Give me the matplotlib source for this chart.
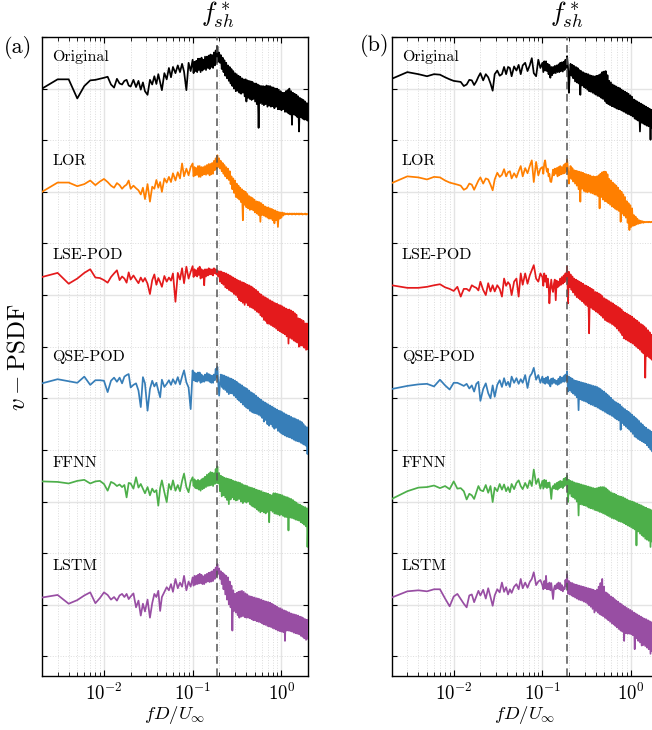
import numpy as np
import matplotlib
matplotlib.use('Agg')
import matplotlib.pyplot as plt
import matplotlib.transforms as mtransforms
from matplotlib.ticker import MultipleLocator, LogLocator, NullFormatter

# police type LaTeX (Computer Modern livree avec matplotlib)
plt.rcParams['font.family'] = 'serif'
plt.rcParams['font.serif'] = ['cmr10']
plt.rcParams['mathtext.fontset'] = 'cm'
plt.rcParams['axes.formatter.use_mathtext'] = True

# =============================================================
#  donnees (PSD en unites log arbitraires,
#  relative a la ligne de base de chaque courbe)
# =============================================================

freq = [0.0020, 0.0030, 0.0040, 0.0050, 0.0060, 0.0070, 0.0080, 0.0090, 0.0100, 0.0110,
        0.0120, 0.0130, 0.0140, 0.0150, 0.0160, 0.0170, 0.0180, 0.0190, 0.0200,
        0.0215, 0.0230, 0.0245, 0.0260, 0.0275, 0.0290, 0.0310, 0.0330, 0.0350, 0.0370,
        0.0390, 0.0410, 0.0430, 0.0450, 0.0480, 0.0510, 0.0540, 0.0570, 0.0600, 0.0640,
        0.0680, 0.0720, 0.0760, 0.0800, 0.0850, 0.0900, 0.0950,
        0.100, 0.1025, 0.105, 0.1075, 0.110, 0.1125, 0.115, 0.1175, 0.120, 0.123,
        0.126, 0.129, 0.132, 0.135, 0.138, 0.1415, 0.145, 0.1485, 0.152, 0.1555,
        0.159, 0.1625, 0.166, 0.170, 0.174, 0.178, 0.182, 0.186, 0.190, 0.1945,
        0.199, 0.2035, 0.208, 0.213, 0.218, 0.223, 0.228, 0.2335, 0.239, 0.2445,
        0.250, 0.256, 0.262, 0.268, 0.274, 0.2805, 0.287, 0.2935, 0.300, 0.307,
        0.314, 0.3215, 0.329, 0.3365, 0.344, 0.352, 0.360, 0.3685, 0.377, 0.386,
        0.395, 0.404, 0.413, 0.4225, 0.432, 0.442, 0.452, 0.4625, 0.473, 0.484,
        0.495, 0.5065, 0.518, 0.530, 0.542, 0.5545, 0.567, 0.5805, 0.594, 0.608,
        0.622, 0.6365, 0.651, 0.666, 0.681, 0.697, 0.713, 0.7295, 0.746, 0.7635,
        0.781, 0.799, 0.817, 0.836, 0.855, 0.875, 0.895, 0.916, 0.937, 0.959,
        0.981, 1.004, 1.027, 1.051, 1.075, 1.100, 1.125, 1.151, 1.177, 1.2045,
        1.232, 1.261, 1.290, 1.320, 1.350, 1.3815, 1.413, 1.446, 1.479, 1.5135,
        1.548, 1.584, 1.620, 1.658, 1.696, 1.7355, 1.775, 1.8165, 1.858, 1.9015,
        1.945, 1.9725, 2.000]

f_sh = 0.19

noms = ['Original', 'LOR', 'LSE-POD', 'QSE-POD', 'FFNN', 'LSTM']
couleurs = ['#000000', '#ff7f00', '#e41a1c', '#377eb8', '#4daf4a', '#984ea3']

# ---------------- panneau (a) ----------------
orig_a = [0, 1.8, 1.8, -1.9, 0.5, 1.6, 1.7, 1.9, 2.1, 2.3, 0.8, 0.2, 1.9, 1.0, 0.8, 1.5, 1.7, 0.6, 0.4,
          1.7, 0.3, 1.5, -0.2, 1.2, -0.5, -1.2, 1.7, 0.8, 2.4, 0.9, 2.8, 1.2, -0.3, 3.0, 1.8, 4.0,
          2.2, 4.2, 3.0, 4.5, 3.2, 4.8, 3.3, -0.3, 5.0, 3.4,
          5.6, 3.0, 5.2, 3.4, 5.4, 3.2, 5.8, 3.6, 5.8, 3.2,
          6.0, 3.5, 5.6, 3.8, 6.2, 3.6, 6.2, 4.0, 6.4, 3.8,
          6.6, 4.2, 6.5, 4.0, 7.0, 4.5, 7.4, 5.0, 8.2, 5.2,
          7.0, 5.0, 6.5, 3.8, 6.0, 3.2, 5.5, 2.5, 5.0, 2.0,
          4.5, 1.5, 4.2, 1.0, 3.8, 0.5, 3.4, 0.0, 3.0, -0.5,
          2.8, -0.4, 2.5, -0.8, 2.3, -1.0, 2.0, -0.8, 1.8, -1.5,
          1.8, -2.5, 1.6, -1.8, 1.5, -2.0, 1.4, -2.2, 1.3, -2.0,
          1.0, -2.5, 1.0, -3.0, 0.8, -7.6, 0.6, -2.8, 0.5, -3.0,
          0.5, -3.2, 0.4, -3.0, 0.6, -3.5, 0.5, -3.3, 0.5, -3.5,
          0.3, -3.4, 0.2, -3.8, 0.0, -3.5, 0.0, -4.0, -0.2, -4.0,
          -0.5, -4.2, -0.8, -4.0, -0.8, -4.5, -0.5, -4.5, -0.3, -4.8,
          0.0, -5.0, -0.5, -7.0, -0.8, -5.0, -1.0, -5.2, -1.2, -5.5,
          -1.5, -8.3, -1.8, -5.5, -2.0, -5.8, -2.2, -6.0, -2.5, -6.0,
          -2.8, -6.2, -3.0]

lor_a = [0, 1.8, 1.8, 1.1, 1.5, 2.2, 1.3, 2.0, 2.5, 1.9, 1.2, 0.8, 1.7, 1.3, 0.6, 1.1, 1.4, 2.2, 0.6,
         1.2, 0.7, 0.3, -0.5, 0.8, -1.4, 1.5, -1.9, 1.0, 0.6, 2.3, 0.8, 1.9, 0.0, 2.6, 1.8, 2.9,
         1.9, 3.6, 2.2, 3.8, 2.6, 5.5, 3.0, 4.5, 3.2, 4.8,
         5.5, 3.0, 4.8, 3.2, 4.6, 3.3, 5.0, 2.9, 5.0, 2.9,
         4.8, 3.2, 4.8, 3.4, 5.0, 3.3, 5.2, 3.5, 5.4, 3.2,
         5.4, 3.4, 5.6, 3.5, 6.0, 4.2, 6.5, 4.5, 7.1, 4.8,
         6.5, 4.5, 6.0, 4.0, 5.6, 3.5, 5.2, 3.0, 4.8, 2.6,
         4.5, 2.3, 4.0, 1.5, 3.0, 0.5, 2.6, -0.2, 2.2, -1.0,
         1.6, -1.2, 1.2, -1.5, 0.8, -2.0, 0.5, -5.5, 0.2, -2.5,
         0.0, -3.0, -0.4, -3.2, -0.8, -3.5, -1.0, -3.4, -1.2, -3.6,
         -1.5, -4.0, -1.8, -4.2, -1.9, -4.5, -2.0, -5.8, -2.2, -4.5,
         -2.5, -4.6, -2.8, -4.8, -3.0, -5.0, -3.0, -5.2, -3.2, -5.2,
         -3.3, -5.5, -3.5, -6.1, -3.6, -5.5, -3.8, -6.8, -3.9, -5.2,
         -4.0, -5.0, -4.0, -4.6, -4.1, -4.4, -4.2, -4.3, -4.2, -4.4,
         -4.2, -4.3, -4.2, -4.4, -4.2, -4.3, -4.2, -4.4, -4.2, -4.3,
         -4.2, -4.4, -4.2, -4.3, -4.2, -4.4, -4.3, -4.3, -4.2, -4.4,
         -4.3, -4.3, -4.3]

lse_a = [3.5, 4.3, 2.2, 3.2, 4.3, 5.0, 3.4, 3.3, 2.9, 2.4, 3.5, 4.2, 4.8, 2.9, 3.6, 3.2, 2.4, 4.4, 3.0,
         3.8, 3.0, 2.3, 3.4, 2.6, 3.3, 2.2, 0.2, 2.9, 4.0, 2.0, 3.3, 2.5, 1.6, 3.7, 2.6, 3.4,
         2.8, 4.2, -1.3, 4.3, 3.0, 5.2, 2.3, 5.5, 3.2, 4.5,
         5.6, 3.5, 5.0, 3.8, 4.8, 3.6, 5.2, 3.9, 5.5, 3.2,
         5.0, 3.4, 4.8, 1.9, 5.0, 3.6, 5.0, 3.8, 5.2, 4.0,
         5.0, 4.0, 5.0, 3.8, 5.2, 4.2, 5.0, 4.0, 4.8, 3.6,
         4.6, 2.6, 4.6, 2.3, 4.4, 2.0, 4.3, 1.5, 4.2, 1.3,
         4.0, 1.0, 3.8, 0.8, 3.6, 0.6, 3.4, 0.2, 3.2, 0.0,
         3.0, -0.4, 2.8, -1.0, 2.7, -1.2, 2.5, -1.5, 2.4, -1.9,
         2.2, -1.5, 2.0, -2.0, 1.9, -2.3, 1.7, -2.4, 1.5, -2.6,
         1.2, -2.9, 1.0, -3.2, 0.7, -3.4, 0.3, -3.9, 0.1, -4.2,
         -0.2, -4.8, -0.4, -5.0, -0.6, -5.5, -0.8, -5.6, -1.0, -5.8,
         -1.2, -6.0, -1.4, -6.2, -1.6, -6.5, -1.7, -6.8, -1.9, -7.0,
         -2.0, -7.2, -2.2, -7.4, -2.4, -7.6, -2.6, -8.0, -2.8, -9.4,
         -2.8, -8.3, -3.0, -8.5, -3.2, -8.8, -3.5, -9.0, -3.8, -9.2,
         -4.5, -10.0, -4.6, -9.8, -4.8, -9.8, -5.0, -10.2, -5.5, -10.6,
         -5.5, -10.5, -5.6]

qse_a = [2.9, 3.7, 3.3, 3.0, 4.2, 2.6, 3.5, 3.5, 3.4, 1.2, 3.4, 4.0, 3.2, 4.0, 2.9, 4.2, 4.5, 4.7, 2.1,
         2.6, 2.9, 1.5, -1.7, 4.1, 2.9, -2.4, 1.8, 3.4, 2.3, 3.0, 1.5, 0.2, 3.6, 2.2, 2.8, 3.5,
         2.6, 3.7, 2.8, 4.1, 2.7, 4.2, 5.4, 3.1, 2.1, -2.1,
         5.4, 3.5, 5.0, 3.3, 4.8, 3.2, 5.0, 3.4, 5.0, 3.0,
         4.6, 3.2, 4.3, 3.2, 4.6, 3.4, 4.9, 3.4, 4.7, 3.2,
         4.5, 3.0, 4.4, 3.0, 4.6, 3.5, 5.7, 4.0, 6.1, 3.0,
         0.5, 3.0, 4.6, 2.2, 4.5, 1.8, 4.4, 1.6, 4.2, 1.2,
         4.1, 0.8, 3.9, 1.0, 3.8, 0.9, 3.6, 0.5, 3.4, 0.2,
         3.2, -0.2, 2.9, -0.5, 2.7, -0.8, 2.5, -1.2, 2.2, -1.5,
         2.0, -1.8, 1.8, -2.0, 1.5, -2.4, 1.2, -2.6, 1.0, -2.8,
         0.8, -2.9, 0.5, -3.0, 0.2, -3.2, -0.1, -3.4, -0.3, -3.8,
         -0.6, -4.5, -0.8, -4.2, -1.0, -5.0, -1.2, -5.3, -1.4, -5.0,
         -1.6, -5.5, -1.8, -5.9, -2.0, -5.7, -2.2, -6.3, -2.4, -6.5,
         -2.5, -6.8, -2.7, -7.0, -2.9, -7.2, -3.1, -7.4, -3.3, -7.5,
         -3.4, -7.6, -3.6, -7.8, -3.8, -8.0, -3.9, -8.2, -4.1, -8.3,
         -4.2, -8.4, -4.4, -8.6, -4.6, -8.8, -5.0, -9.0, -5.4, -9.2,
         -5.6, -10.8, -6.0]

ffnn_a = [3.9, 3.8, 3.5, 4.0, 4.2, 3.5, 3.9, 4.0, 3.4, 2.1, 3.8, 3.5, 3.0, 3.3, 2.8, 3.2, 0.8, 3.6, 3.5,
          2.5, 4.7, 2.7, 3.4, 2.5, 1.6, 2.8, 1.2, 2.5, 1.8, 2.2, -0.8, 2.6, 4.1, 1.8, -0.1, 3.4,
          2.3, 4.1, 2.1, 3.2, 2.0, 4.0, 5.4, 2.8, 1.8, 3.9,
          4.7, 3.0, 4.3, 2.6, 4.0, 2.5, 4.2, 2.3, 4.0, 2.1,
          4.3, 2.4, 4.5, 2.6, 4.8, 2.8, 5.2, 3.0, 5.4, 3.1,
          5.7, 3.2, 5.6, 3.0, 5.5, 3.4, 6.3, 3.6, 6.8, 3.5,
          5.5, 2.0, 5.0, 1.0, 4.8, 1.2, 4.6, 0.8, 4.5, 0.3,
          4.4, -0.5, 4.3, 0.4, 4.2, 0.8, 4.0, 0.4, 3.9, 0.2,
          3.8, 0.3, 3.7, 0.5, 3.6, 0.0, 3.4, -0.3, 3.2, 0.0,
          3.1, -0.2, 3.0, 0.0, 2.8, -0.5, 2.7, -0.8, 2.6, -1.0,
          2.5, -1.2, 2.3, -1.5, 2.2, -1.8, 2.1, -2.1, 2.0, -1.9,
          1.8, -2.1, 1.7, -2.3, 1.6, -2.0, 1.5, -4.0, 1.3, -1.7,
          1.2, -2.0, 1.6, -2.3, 1.6, -2.4, 1.5, -2.5, 1.4, -2.7,
          1.3, -2.5, 1.2, -2.8, 1.0, -3.0, 0.9, -3.0, 0.8, -5.6,
          0.6, -3.1, 0.5, -3.2, 0.3, -3.3, 0.0, -3.5, -0.2, -3.6,
          -0.5, -3.7, -0.6, -4.0, -0.8, -4.2, -1.0, -4.5, -1.1, -4.8,
          -1.3, -8.8, -5.0]

lstm_a = [1.4, 1.9, 0.2, 0.9, 1.8, 2.4, 0.3, 1.3, 2.4, 1.9, 1.0, 1.5, 0.8, 1.8, 2.1, 1.5, 2.1, 1.1, 1.6,
          2.2, -0.5, 0.8, -2.1, 0.2, -1.3, 1.0, -2.5, 0.3, 2.1, 1.5, 2.7, -1.2, 1.5, 2.5, 3.4, 2.8,
          4.0, 2.5, 5.0, 3.2, 4.3, 3.5, 5.6, 2.8, 4.5, 3.5,
          5.3, 3.7, 5.6, 3.9, 5.6, 4.0, 5.8, 4.1, 6.0, 4.2,
          5.8, 4.0, 5.5, 4.0, 5.8, 4.3, 6.0, 4.5, 6.2, 4.4,
          6.3, 4.5, 6.5, 4.6, 6.8, 5.0, 7.2, 5.5, 7.9, 6.0,
          7.0, 5.0, 6.5, 4.0, 6.2, 3.0, 5.9, 2.0, 5.6, 1.0,
          5.3, 0.1, 4.5, -0.5, 3.7, -5.0, 2.8, -1.2, 2.1, -1.5,
          2.3, -2.0, 2.5, -2.5, 2.6, -2.3, 2.7, -2.2, 2.5, -2.4,
          2.2, -2.5, 2.0, -2.5, 1.7, -2.6, 1.6, -2.8, 1.5, -3.0,
          1.4, -3.0, 1.3, -3.2, 1.2, -3.3, 1.1, -3.4, 1.0, -3.6,
          0.8, -3.8, 0.7, -3.9, 0.6, -4.1, 0.5, -4.2, 0.4, -4.3,
          0.2, -4.5, 0.0, -4.6, -0.2, -4.8, -0.4, -5.0, -0.6, -5.1,
          -0.7, -5.2, -0.9, -5.3, -1.1, -7.0, -1.2, -5.0, -1.4, -5.0,
          -1.5, -5.1, -1.7, -5.2, -1.8, -5.4, -1.9, -5.5, -2.0, -5.6,
          -2.1, -5.7, -2.3, -6.0, -2.4, -6.2, -2.6, -6.5, -2.8, -6.8,
          -2.9, -6.6, -3.0]

# ---------------- panneau (b) ----------------
orig_b = [1.9, 3.2, 2.8, 2.4, 2.8, 2.7, 2.2, 1.8, 1.5, 1.4, 1.3, 0.5, 0.8, 1.7, 1.6, 0.7, 1.4, 2.3, 3.0,
          1.6, 2.8, 2.2, 1.0, -0.4, 2.8, 3.5, 2.5, 2.8, 4.2, 2.8, 4.2, 4.0, 2.4, 4.3, 3.5, 4.6,
          2.8, 4.5, 5.0, 3.4, 4.5, 5.9, 3.0, 2.4, 5.6, 4.0,
          5.0, 3.2, 5.3, 3.5, 5.3, 3.4, 4.8, 2.8, 4.6, 2.1,
          4.2, 2.6, 4.2, 3.0, 4.4, 3.0, 4.5, 3.2, 4.7, 3.2,
          5.0, 3.4, 5.1, 3.3, 5.2, 3.6, 5.6, 4.0, 6.3, 4.2,
          -0.8, 3.0, 4.8, 2.5, 4.6, 2.0, 4.4, 1.4, 4.2, 1.2,
          4.0, 1.0, 3.6, -1.2, 3.4, 0.6, 3.2, 0.3, 3.0, 0.1,
          2.9, -0.2, 2.8, -0.5, 2.6, -0.6, 2.5, -0.8, 2.4, -1.0,
          2.4, -1.2, 2.5, -1.4, 2.6, -1.5, 2.8, -1.8, 3.2, -2.0,
          3.3, -2.4, 3.4, -2.8, 2.6, -3.0, 1.5, -3.2, 1.2, -3.4,
          0.8, -3.5, 0.6, -3.7, 0.4, -3.9, 0.2, -4.0, 0.1, -4.1,
          -0.2, -4.3, -0.4, -4.5, -0.6, -4.7, -0.8, -4.9, -1.0, -5.0,
          -1.3, -5.2, -1.6, -5.4, -2.1, -5.8, -2.3, -6.0, -2.5, -6.2,
          -2.7, -8.3, -2.9, -6.6, -3.1, -6.8, -3.3, -7.0, -3.5, -7.2,
          -3.7, -7.3, -3.9, -9.9, -4.1, -7.6, -4.3, -7.8, -4.6, -8.0,
          -4.8, -8.2, -5.0]

lor_b = [1.7, 3.0, 2.8, 2.4, 2.9, 2.8, 2.2, 1.8, 1.6, 1.4, 1.2, 0.4, 0.7, 1.6, 1.4, 0.4, 1.3, 2.2, 2.8,
         1.6, 2.6, 2.4, 1.4, 0.3, 2.4, 3.7, 2.9, 3.3, 4.4, 3.0, 3.8, 4.0, 2.6, 3.6, 2.8, 4.0,
         5.0, 3.0, 4.6, 3.6, 5.0, 6.1, 1.9, 5.8, 3.2, 4.5,
         4.8, 3.5, 5.5, 6.1, 4.8, 3.9, 4.5, 3.0, 3.5, 2.0,
         1.9, 3.0, 4.3, 3.2, 4.5, 3.5, 4.6, 3.0, 4.8, 3.2,
         5.0, 3.4, 4.8, 3.5, 5.2, 3.6, 5.5, 4.0, 6.3, 4.5,
         1.6, 3.5, 5.0, 2.5, 4.6, 2.0, 4.2, 1.6, 4.1, 1.2,
         4.0, 0.5, 3.9, -1.9, 3.8, 0.6, 3.7, 0.2, 3.5, 0.0,
         3.4, -0.1, 3.3, 0.0, 3.2, -0.2, 3.0, -0.3, 3.0, -0.5,
         2.9, -0.6, 3.0, -0.8, 3.2, -3.2, 3.5, -1.0, 3.8, -1.5,
         3.9, -1.8, 3.9, -1.9, 3.4, -2.2, 2.5, -2.5, 2.2, -2.8,
         1.8, -3.0, 1.5, -3.3, 1.2, -3.5, 0.8, -3.7, 0.3, -5.8,
         0.0, -4.2, -0.5, -4.6, -1.0, -5.0, -1.8, -6.0, -2.2, -7.4,
         -2.6, -6.8, -3.2, -6.6, -4.5, -6.5, -4.8, -6.3, -5.2, -6.2,
         -5.5, -6.1, -5.6, -6.0, -5.7, -6.0, -5.8, -5.9, -5.8, -5.9,
         -5.8, -5.9, -5.8, -5.9, -5.8, -5.9, -5.8, -5.9, -5.8, -5.9,
         -5.8, -5.9, -5.8]

lse_b = [1.9, 1.4, 1.4, 1.6, 1.9, 2.1, 1.5, 1.2, 0.8, 1.6, -0.3, 1.2, 1.2, 0.8, 1.9, 1.6, 1.4, 0.9, 2.6,
         1.0, 0.0, 2.3, 0.7, 1.9, 0.7, 1.9, 1.2, -0.3, 3.2, 1.8, 2.5, 2.0, 0.0, 2.6, 3.2, -0.3,
         4.2, 2.0, 4.2, 2.2, 3.8, 4.8, 5.8, 3.2, 2.6, 4.2,
         3.5, 1.8, 4.2, 2.6, 3.8, 1.5, 3.2, 2.0, -1.6, 1.3,
         3.0, 1.3, 0.6, 2.2, 3.0, -1.0, 2.8, 1.5, 2.6, 1.8,
         3.2, 2.0, 3.5, 2.2, 3.8, 2.5, 4.2, 3.0, 5.5, -1.6,
         4.5, 1.5, 4.0, 1.0, 3.6, 0.5, 3.2, 0.0, 3.0, -0.4,
         2.8, -0.6, 2.6, -0.9, 2.4, -1.2, 2.2, -1.5, 1.9, -1.9,
         1.8, -2.1, 1.6, -7.4, 1.4, -2.4, 1.2, -2.7, 1.0, -2.9,
         0.6, -3.2, 0.5, -3.4, 0.3, -3.7, 0.1, -4.0, -0.2, -4.4,
         -0.6, -4.8, -0.8, -5.0, -1.0, -5.2, -1.2, -5.4, -1.4, -5.6,
         -1.6, -5.8, -1.9, -6.1, -2.1, -6.5, -2.3, -6.9, -2.5, -7.3,
         -2.8, -7.8, -3.2, -8.4, -3.4, -8.6, -3.6, -8.8, -3.8, -9.0,
         -4.0, -9.2, -4.2, -9.4, -4.5, -9.7, -4.8, -10.0, -5.0, -10.3,
         -5.3, -10.6, -5.6, -11.0, -5.8, -11.3, -6.1, -16.0, -6.4, -11.8,
         -6.8, -12.0, -7.2, -12.3, -7.7, -12.6, -7.9, -12.8, -8.1, -12.9,
         -8.3, -13.0, -8.5]

qse_b = [1.8, 2.4, 2.7, 2.8, 2.3, 3.6, 2.5, 1.7, 3.0, 3.0, 2.7, 2.4, 2.8, 1.9, 2.5, 1.3, 2.8, 3.2, -0.5,
         1.8, 2.9, 1.0, 0.0, 2.5, 0.3, 2.6, 3.5, 2.2, 3.9, 2.5, 3.2, 2.2, 4.2, 3.0, 3.9, 2.8,
         3.7, 3.0, 4.5, 2.0, 4.2, 4.8, 5.9, 3.6, 4.5, 3.0,
         4.2, 3.0, 3.8, 2.8, 4.0, 3.0, 4.2, 2.8, 3.5, 2.3,
         3.8, 2.8, 3.9, 3.0, 3.6, 2.8, 3.4, 2.6, 3.8, 2.8,
         4.2, 3.0, 4.0, 3.2, 4.3, 3.2, 4.6, 3.5, 5.2, 1.3,
         4.2, 1.5, 4.0, 1.2, 3.8, 0.9, 3.5, 0.6, 3.4, 0.2,
         3.3, -2.3, 3.2, -0.2, 3.1, -0.4, 3.0, -0.5, 2.9, -0.6,
         2.8, -0.8, 2.7, -1.0, 2.6, -1.2, 2.5, -1.3, 2.4, -1.5,
         2.3, -1.6, 2.2, -1.8, 2.0, -2.0, 1.8, -2.2, 1.5, -2.4,
         1.3, -2.6, 1.0, -2.8, 0.7, -3.0, 0.4, -3.2, 0.1, -3.4,
         -0.3, -3.6, -0.6, -3.9, -0.8, -4.1, -1.0, -4.3, -1.2, -6.1,
         -1.6, -4.8, -1.9, -5.2, -2.1, -5.5, -2.4, -5.8, -2.6, -6.1,
         -2.9, -6.5, -3.2, -6.9, -3.5, -7.4, -3.8, -7.6, -4.1, -7.9,
         -4.4, -8.1, -4.8, -8.3, -5.1, -8.5, -5.5, -8.7, -5.7, -9.1,
         -6.0, -9.5, -6.2, -9.9, -6.5, -10.3, -6.7, -10.4, -6.8, -10.5,
         -6.9, -10.5, -7.0]

ffnn_b = [0.5, 2.0, 2.7, 2.8, 3.1, 2.6, 3.0, 2.4, 3.9, 2.5, 2.6, 2.0, 0.4, 1.5, 1.2, 0.5, 1.8, 3.0, 2.2,
          2.0, 3.2, 1.7, 3.0, -0.1, 2.7, 2.0, 3.4, 2.3, 3.3, 2.0, 2.8, 1.8, 3.4, 2.4, 3.6, 4.1,
          3.0, 2.4, 3.6, 2.6, 4.1, 3.0, 6.2, 3.4, 4.4, 2.5,
          4.0, 2.5, 4.2, 2.8, 4.1, 2.6, 3.6, 2.8, 3.7, 2.4,
          0.5, 2.6, 3.0, 2.5, 3.4, 2.4, 3.6, 2.3, 3.8, 2.6,
          4.0, 2.8, 3.9, 2.6, 4.4, 3.0, 4.6, 3.4, 5.0, -0.1,
          4.2, 1.5, 4.0, 1.0, 3.9, 0.8, 3.7, 0.5, 3.6, 0.0,
          3.5, -2.7, 3.4, -0.5, 3.3, -0.6, 3.2, -0.7, 3.1, -0.8,
          3.0, -1.0, 2.9, -1.2, 2.8, -1.3, 2.7, -1.4, 2.6, -1.6,
          2.5, -1.7, 2.6, -1.8, 2.7, -2.0, 2.8, -2.1, 2.8, -2.3,
          2.8, -2.4, 2.6, -2.6, 2.3, -2.8, 2.0, -3.0, 1.8, -3.2,
          1.6, -3.3, 1.5, -3.4, 1.3, -3.6, 1.1, -3.8, 1.0, -3.9,
          0.9, -4.0, 0.8, -4.2, 0.6, -4.4, 0.4, -4.6, 0.2, -4.8,
          0.1, -5.0, 0.0, -5.2, -0.1, -5.4, -0.3, -8.5, -0.4, -5.8,
          -0.6, -6.2, -0.7, -6.5, -0.9, -6.8, -1.1, -7.2, -1.2, -7.4,
          -1.4, -7.6, -1.5, -8.8, -1.7, -7.8, -1.8, -8.0, -2.0, -8.2,
          -2.1, -8.5, -2.2]

lstm_b = [1.4, 2.6, 2.8, 2.6, 3.0, 3.0, 1.2, -0.3, 1.6, 2.1, 1.1, 0.2, -0.5, 1.8, 2.0, 0.5, 1.6, 2.7, 1.8,
          2.9, 1.2, 3.2, 1.5, -0.2, 1.8, 3.0, 2.4, 4.3, 2.5, 3.4, 2.0, 3.0, 2.3, 3.5, 4.0, 3.0,
          5.0, 3.2, 4.3, 3.3, 4.4, 5.0, 6.3, 3.8, 4.5, 4.8,
          3.8, 3.0, 4.6, 3.2, 5.6, 3.0, 4.0, 3.0, 4.3, 2.8,
          4.2, 2.6, 1.1, 3.0, 3.7, 3.0, 4.0, 3.2, 4.3, 3.0,
          4.2, 2.8, 3.8, 2.6, 3.4, 3.0, 4.8, 3.5, 5.9, 2.1,
          4.6, 2.0, 4.3, 1.8, 4.2, 1.6, 4.0, 1.4, 3.9, 1.2,
          3.8, 1.0, 3.7, 0.9, 3.6, 0.8, 3.5, 0.6, 3.4, 0.5,
          3.3, 0.2, 3.2, -0.1, 3.1, -0.4, 3.0, -0.8, 2.9, -1.5,
          2.7, -1.2, 2.9, -1.5, 3.5, -1.8, 4.2, -2.0, 5.0, -2.2,
          3.5, -2.5, 2.4, -2.7, 2.2, -3.0, 1.9, -3.3, 1.6, -3.6,
          1.4, -3.8, 1.1, -4.1, 0.8, -4.4, 0.6, -4.7, 0.3, -5.0,
          0.1, -5.2, -0.2, -7.0, -0.4, -5.5, -0.6, -5.6, -0.8, -5.6,
          -1.0, -5.7, -1.2, -5.9, -1.5, -8.6, -1.7, -6.5, -1.9, -7.0,
          -2.1, -7.3, -2.3, -7.9, -2.5, -7.8, -2.7, -8.0, -2.8, -8.3,
          -3.0, -8.6, -3.2, -9.5, -3.4, -9.0, -3.5, -9.2, -3.6, -9.3,
          -3.7, -9.4, -3.8]

# hauteur des etiquettes au-dessus de la ligne de base de chaque courbe
label_dy = [6.1, 6.0, 7.8, 8.0, 7.4, 7.4]
decalage = 20      # ecart vertical entre deux courbes


# =============================================================
#  trace
# =============================================================

fig = plt.figure(figsize=(6.52, 7.30), dpi=100)

# le panneau de droite deborde un peu de la figure (comme l'original)
ax_a = fig.add_axes([0.0644, 0.074, 0.408, 0.8753])
ax_b = fig.add_axes([0.6008, 0.074, 0.408, 0.8753])

panneaux = [(ax_a, [orig_a, lor_a, lse_a, qse_a, ffnn_a, lstm_a], '(a)', 0.027, 0.9356),
            (ax_b, [orig_b, lor_b, lse_b, qse_b, ffnn_b, lstm_b], '(b)', 0.574, 0.937)]

for ax, series, tag, xtag, ytag in panneaux:

    trans = mtransforms.blended_transform_factory(ax.transAxes, ax.transData)

    for k, vals in enumerate(series):
        y = np.array(vals) - decalage * k
        ax.plot(freq, y, color=couleurs[k], lw=1.25, zorder=3)
        ax.text(0.038, label_dy[k] - decalage * k, noms[k], transform=trans,
                fontsize=11.5, ha='left', va='center')

    ax.axvline(f_sh, color='#555555', lw=1.1, ls=(0, (5, 3)), zorder=4)
    trans_x = mtransforms.blended_transform_factory(ax.transData, ax.transAxes)
    ax.text(f_sh, 1.035, r'$f^*_{sh}$', transform=trans_x, fontsize=19,
            ha='center', va='center')

    ax.set_xscale('log')
    ax.set_xlim(2e-3, 2)
    ax.set_ylim(-113.8, 10)

    ax.xaxis.set_major_locator(LogLocator(base=10, numticks=10))
    ax.xaxis.set_minor_locator(LogLocator(base=10, subs=np.arange(2, 10), numticks=20))
    ax.xaxis.set_minor_formatter(NullFormatter())
    ax.yaxis.set_major_locator(MultipleLocator(20))
    ax.yaxis.set_minor_locator(MultipleLocator(10))

    ax.tick_params(which='both', direction='in', top=True, right=True,
                   labelleft=False, labelsize=13.5, pad=5)
    ax.tick_params(axis='x', which='major', length=4.5, width=0.8)
    ax.tick_params(axis='x', which='minor', length=2.8, width=0.6)
    ax.tick_params(axis='y', which='both', length=3.5, width=0.8)

    ax.grid(which='major', color='#e4e4e4', lw=1.0, ls='-', zorder=0)
    ax.grid(which='minor', color='#dcdcdc', lw=0.7, ls=':', zorder=0)

    for sp in ax.spines.values():
        sp.set_linewidth(1.0)

    ax.set_xlabel(r'$fD/U_\infty$', fontsize=13.5)
    ax.xaxis.set_label_coords(0.5, -0.044)

    fig.text(xtag, ytag, tag, fontsize=16, ha='center', va='center')

fig.text(0.028, 0.511, r'$v-$PSDF', fontsize=18, rotation=90,
         ha='center', va='center')

plt.savefig('out.png', dpi=100)
